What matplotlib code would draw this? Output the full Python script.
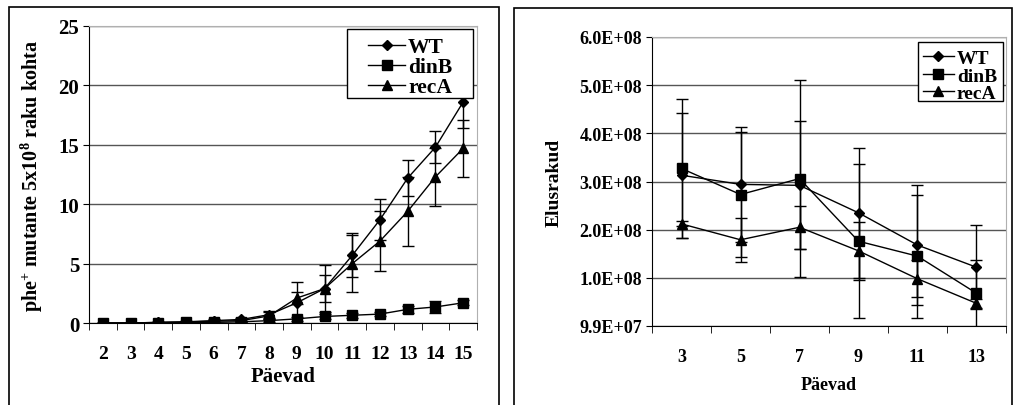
import numpy as np
import matplotlib.pyplot as plt
from matplotlib.patches import Rectangle

plt.rcParams["font.family"] = "Liberation Serif"
plt.rcParams["font.weight"] = "bold"
plt.rcParams["mathtext.fontset"] = "custom"
plt.rcParams["mathtext.rm"] = "Liberation Serif:bold"
plt.rcParams["mathtext.bf"] = "Liberation Serif:bold"

# Left chart: phe+ mutants per 5x10^8 cells
days_left = [2, 3, 4, 5, 6, 7, 8, 9, 10, 11, 12, 13, 14, 15]
wt_left = [0.0, 0.0, 0.05, 0.1, 0.2, 0.3, 0.7, 1.7, 2.9, 5.7, 8.7, 12.2, 14.8, 18.6]
wt_left_err = [0.0, 0.0, 0.05, 0.05, 0.1, 0.1, 0.3, 1.75, 2.0, 1.85, 1.7, 1.5, 1.35, 2.2]
dinb_left = [0.0, 0.0, 0.03, 0.05, 0.05, 0.1, 0.2, 0.35, 0.55, 0.65, 0.75, 1.15, 1.35, 1.7]
dinb_left_err = [0.0, 0.0, 0.02, 0.03, 0.05, 0.05, 0.1, 0.15, 0.2, 0.2, 0.2, 0.3, 0.5, 0.2]
reca_left = [0.0, 0.0, 0.05, 0.08, 0.15, 0.2, 0.6, 2.1, 2.9, 5.0, 6.9, 9.4, 12.3, 14.7]
reca_left_err = [0.0, 0.0, 0.05, 0.05, 0.1, 0.1, 0.3, 0.5, 1.1, 2.4, 2.55, 2.9, 2.45, 2.4]

# Right chart: living cells (x 1e8)
days_right = [3, 5, 7, 9, 11, 13]
wt_right = [3.13, 2.94, 2.92, 2.35, 1.68, 1.22]
wt_right_err = [1.3, 1.2, 1.33, 1.35, 1.24, 0.87]
dinb_right = [3.27, 2.73, 3.06, 1.76, 1.45, 0.68]
dinb_right_err = [1.45, 1.3, 2.05, 1.6, 1.28, 0.7]
reca_right = [2.12, 1.79, 2.05, 1.56, 0.98, 0.47]
reca_right_err = [0.05, 0.46, 0.45, 0.6, 0.38, 0.1]
right_ticklabels = ["9.9E+07", "1.0E+08", "2.0E+08", "3.0E+08",
                    "4.0E+08", "5.0E+08", "6.0E+08"]
series_names = ["WT", "dinB", "recA"]

W, H = 1018, 406
fig = plt.figure(figsize=(W / 100, H / 100), dpi=100)

# panel frames
for x0, x1, y0 in [(9, 499, 8), (514, 1012, 9)]:
    fig.add_artist(Rectangle((x0 / W, -0.05), (x1 - x0) / W, (H - y0) / H + 0.05,
                             transform=fig.transFigure, fill=False, ec="black", lw=1.2))


def style_axes(ax, xsize, ysize, xpad):
    ax.spines["top"].set_color("#b0b0b0")
    ax.spines["right"].set_color("#b0b0b0")
    ax.spines["left"].set_color("black")
    ax.spines["bottom"].set_color("black")
    ax.grid(axis="y", color="#555555", lw=1)
    ax.set_axisbelow(True)
    ax.tick_params(axis="x", which="major", length=0, pad=xpad, labelsize=xsize)
    ax.tick_params(axis="x", which="minor", length=5, direction="out")
    ax.tick_params(axis="y", length=4, direction="out", labelsize=ysize, pad=3)
    for lab in ax.get_xticklabels() + ax.get_yticklabels():
        lab.set_fontweight("bold")


def draw_series(ax, x, y, err, marker, ms):
    c = ax.errorbar(x, y, yerr=err, color="black", lw=1, marker=marker, ms=ms,
                    capsize=4, elinewidth=1, capthick=1)
    return c.lines[0]


def boxed_legend(ax, handles, box, anchor, size, hlen):
    ax.add_patch(Rectangle((box[0], box[1]), box[2] - box[0], box[3] - box[1],
                           transform=ax.transAxes, fill=True, fc="white", ec="black",
                           lw=1, zorder=4, clip_on=False))
    leg = ax.legend(handles, series_names, loc="upper left", bbox_to_anchor=anchor,
                    frameon=False, fontsize=size, handlelength=hlen, borderpad=0,
                    borderaxespad=0, labelspacing=0.0, handletextpad=0.15)
    leg.set_zorder(5)
    for t in leg.get_texts():
        t.set_fontweight("bold")


# ---- left chart
axl = fig.add_axes([89 / W, 1 - 324 / H, 388 / W, 297 / H])
xl = np.arange(len(days_left))
h1 = draw_series(axl, xl, wt_left, wt_left_err, "D", 5.5)
h2 = draw_series(axl, xl, dinb_left, dinb_left_err, "s", 7)
h3 = draw_series(axl, xl, reca_left, reca_left_err, "^", 7.5)
axl.set_xlim(-0.5, len(days_left) - 0.5)
axl.set_ylim(0, 25)
axl.set_yticks([0, 5, 10, 15, 20, 25])
axl.set_xticks(xl)
axl.set_xticklabels([str(d) for d in days_left])
axl.set_xticks(np.arange(len(days_left) + 1) - 0.5, minor=True)
style_axes(axl, 14, 15, 16)
axl.set_xlabel("Päevad", fontsize=15, fontweight="bold", labelpad=3)
axl.set_ylabel(r"phe$^{+}$ mutante 5x10$^{8}$ raku kohta", fontsize=14.5,
               fontweight="bold", labelpad=10)
boxed_legend(axl, [h1, h2, h3], (0.665, 0.758, 0.990, 0.990), (0.72, 0.962), 15.5, 1.7)

# ---- right chart
axr = fig.add_axes([652 / W, 1 - 327 / H, 354 / W, 289 / H])
xr = np.arange(len(days_right))
scale = 1e8
g1 = draw_series(axr, xr, np.array(wt_right) * scale, np.array(wt_right_err) * scale, "D", 5.5)
g2 = draw_series(axr, xr, np.array(dinb_right) * scale, np.array(dinb_right_err) * scale, "s", 7)
g3 = draw_series(axr, xr, np.array(reca_right) * scale, np.array(reca_right_err) * scale, "^", 7.5)
axr.set_xlim(-0.5, len(days_right) - 0.5)
axr.set_ylim(0, 6e8)
axr.set_yticks(np.arange(7) * 1e8)
axr.set_yticklabels(right_ticklabels)
axr.set_xticks(xr)
axr.set_xticks(np.arange(len(days_right) + 1) - 0.5, minor=True)
axr.set_xticklabels([str(d) for d in days_right])
style_axes(axr, 13, 13, 16)
axr.set_xlabel("Päevad", fontsize=13, fontweight="bold", labelpad=8)
axr.set_ylabel("Elusrakud", fontsize=14, fontweight="bold", labelpad=12)
boxed_legend(axr, [g1, g2, g3], (0.751, 0.779, 0.992, 0.983), (0.765, 0.957), 14, 1.6)

fig.savefig("out.png", dpi=100)
